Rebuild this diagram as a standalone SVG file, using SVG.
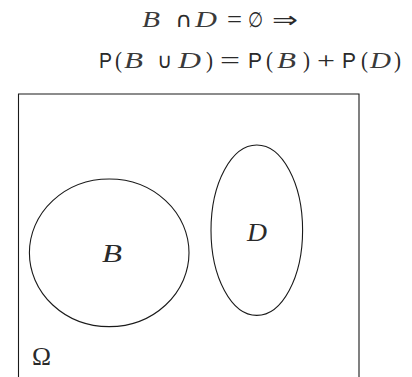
<svg xmlns="http://www.w3.org/2000/svg" width="412" height="377" viewBox="0 0 412 377">
<style>
.m{font-family:"Liberation Serif","DejaVu Serif",serif;font-size:24px;fill:#2a2a2a}
.i{font-style:italic;fill:#3a3a3a}
.s{font-family:"Liberation Sans","DejaVu Sans",sans-serif;font-size:22px}
.sym{font-family:"DejaVu Sans","Liberation Serif",serif;font-size:21px}
.shape{fill:none;stroke:#1a1a1a;stroke-width:1.1}
.lbl{font-family:"Liberation Serif","DejaVu Serif",serif;font-size:26px;fill:#2a2a2a}
</style>
<rect width="412" height="377" fill="#fff"/>
<g id="formula">
<text class="m i" x="142" y="26.7" textLength="18" lengthAdjust="spacingAndGlyphs">B</text>
<text class="m sym" x="175" y="26.7" textLength="17" lengthAdjust="spacingAndGlyphs">∩</text>
<text class="m i" x="195" y="26.7" textLength="22" lengthAdjust="spacingAndGlyphs">D</text>
<text class="m" x="227" y="26.7" textLength="15" lengthAdjust="spacingAndGlyphs">=</text>
<text class="m sym" x="248" y="26.7" textLength="15" lengthAdjust="spacingAndGlyphs">∅</text>
<text class="m sym" x="272" y="26.7" textLength="26" lengthAdjust="spacingAndGlyphs">⇒</text>
<text class="m s" x="99" y="68" textLength="13" lengthAdjust="spacingAndGlyphs">P</text>
<text class="m" x="115" y="68" textLength="7" lengthAdjust="spacingAndGlyphs">(</text>
<text class="m i" x="124" y="68" textLength="19" lengthAdjust="spacingAndGlyphs">B</text>
<text class="m sym" x="157" y="68" textLength="15" lengthAdjust="spacingAndGlyphs">∪</text>
<text class="m i" x="178" y="68" textLength="23" lengthAdjust="spacingAndGlyphs">D</text>
<text class="m" x="206" y="68" textLength="7" lengthAdjust="spacingAndGlyphs">)</text>
<text class="m" x="220" y="68" textLength="20" lengthAdjust="spacingAndGlyphs">=</text>
<text class="m s" x="248" y="68" textLength="14" lengthAdjust="spacingAndGlyphs">P</text>
<text class="m" x="266" y="68" textLength="7" lengthAdjust="spacingAndGlyphs">(</text>
<text class="m i" x="277" y="68" textLength="19" lengthAdjust="spacingAndGlyphs">B</text>
<text class="m" x="303" y="68" textLength="7" lengthAdjust="spacingAndGlyphs">)</text>
<text class="m" x="317" y="68" textLength="18" lengthAdjust="spacingAndGlyphs">+</text>
<text class="m s" x="342" y="68" textLength="14" lengthAdjust="spacingAndGlyphs">P</text>
<text class="m" x="361" y="68" textLength="7" lengthAdjust="spacingAndGlyphs">(</text>
<text class="m i" x="370" y="68" textLength="21" lengthAdjust="spacingAndGlyphs">D</text>
<text class="m" x="394" y="68" textLength="7" lengthAdjust="spacingAndGlyphs">)</text>
</g>
<g id="omega">
<path class="shape" d="M18.5,380 V94 H359 V380" stroke-width="1.3" stroke="#444"/>
<text class="lbl" x="32" y="365" font-size="27" textLength="19" lengthAdjust="spacingAndGlyphs">Ω</text>
</g>
<g id="B">
<ellipse class="shape" cx="109.2" cy="252.8" rx="79.8" ry="73.8"/>
<text class="lbl i" x="102" y="261.5" textLength="20" lengthAdjust="spacingAndGlyphs">B</text>
</g>
<g id="D">
<ellipse class="shape" cx="256.8" cy="230.2" rx="45.8" ry="85.2"/>
<text class="lbl i" x="247" y="241" textLength="20" lengthAdjust="spacingAndGlyphs">D</text>
</g>
<g id="connectors"/>
</svg>
